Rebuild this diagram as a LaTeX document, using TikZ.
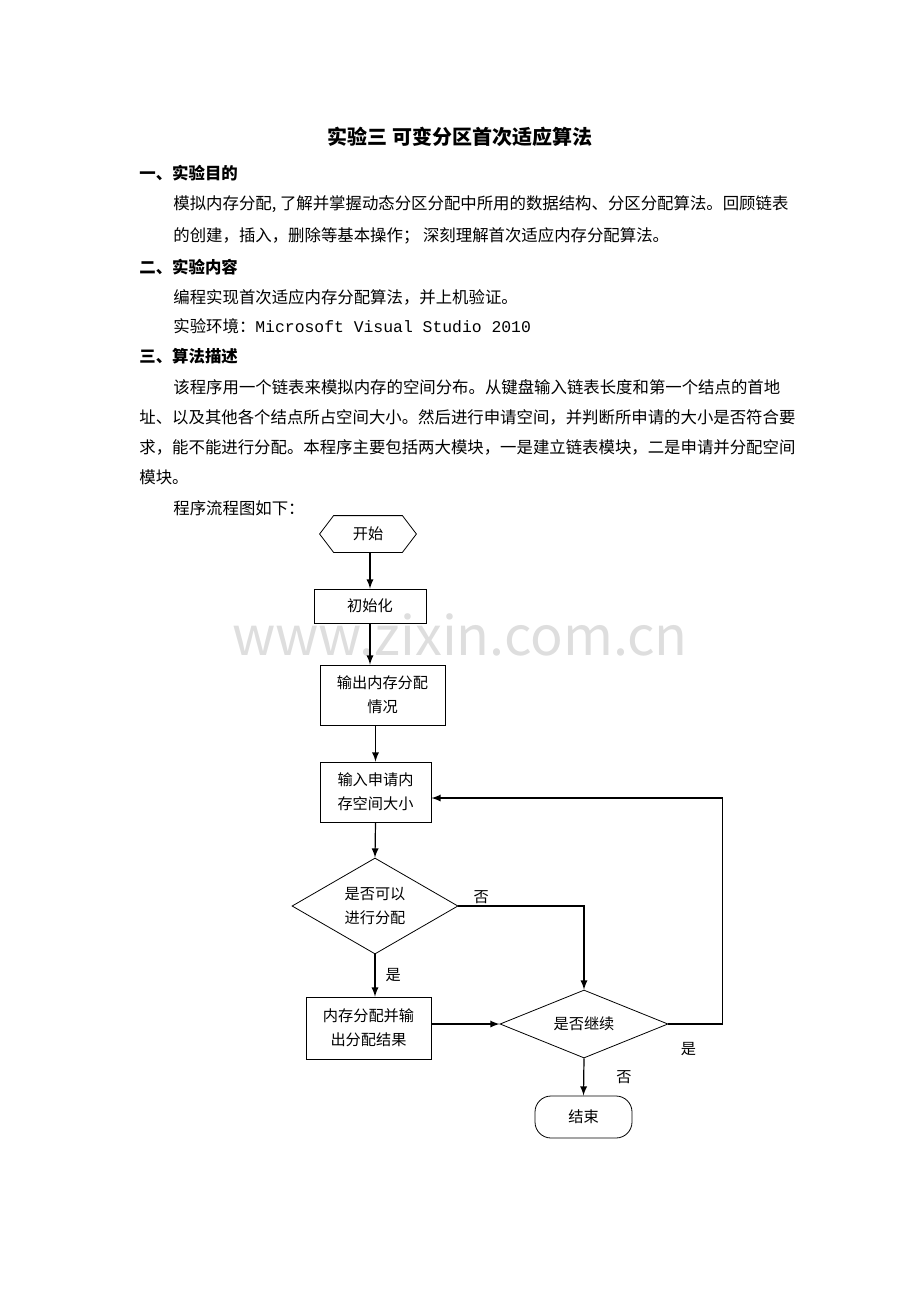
\documentclass[tikz,border=0pt]{standalone}
\usepackage{fontspec}
\setmainfont{Noto Sans CJK SC}
\setmonofont{Liberation Mono}
\usetikzlibrary{shapes.geometric,calc}
\tikzset{
  txt/.style={anchor=west,inner sep=0pt,font=\fontsize{8.2pt}{10pt}\selectfont},
  head/.style={txt,font=\fontsize{8.2pt}{10pt}\selectfont\bfseries},
  box/.style={draw,thin,inner sep=1pt,align=center,font=\fontsize{7.6pt}{12pt}\selectfont},
  dec/.style={draw,thin,diamond,aspect=1.75,inner sep=0pt,align=center,font=\fontsize{7.6pt}{12pt}\selectfont},
  lbl/.style={inner sep=0pt,font=\fontsize{7.6pt}{9pt}\selectfont},
  arr/.style={-latex,semithick}
}
\begin{document}
\begin{tikzpicture}[x=0.5pt,y=-0.5pt]
    \useasboundingbox (0,0) rectangle (920,1302);
    % watermark
    \node[text=black!13,font=\fontsize{27pt}{27pt}\selectfont] (wm) at (460,635) {www.zixin.com.cn};

    % text of the page
    \node[inner sep=0pt,font=\fontsize{10pt}{12pt}\selectfont\bfseries] (title) at (460,137) {实验三\ 可变分区首次适应算法};
    \node[head] (h1) at (139,173) {一、实验目的};
    \node[txt] (p1) at (173,204) {模拟内存分配, 了解并掌握动态分区分配中所用的数据结构、分区分配算法。回顾链表};
    \node[txt] (p2) at (173,236) {的创建，插入，删除等基本操作；\ 深刻理解首次适应内存分配算法。};
    \node[head] (h2) at (139,267) {二、实验内容};
    \node[txt] (p3) at (173,297) {编程实现首次适应内存分配算法，并上机验证。};
    \node[txt] (p4) at (173,326) {实验环境：{\ttfamily Microsoft Visual Studio 2010}};
    \node[head] (h3) at (139,356) {三、算法描述};
    \node[txt] (p5) at (173,387) {该程序用一个链表来模拟内存的空间分布。从键盘输入链表长度和第一个结点的首地};
    \node[txt] (p6) at (139,417) {址、以及其他各个结点所占空间大小。然后进行申请空间，并判断所申请的大小是否符合要};
    \node[txt] (p7) at (139,447) {求，能不能进行分配。本程序主要包括两大模块，一是建立链表模块，二是申请并分配空间};
    \node[txt] (p8) at (139,477) {模块。};
    \node[txt] (p9) at (173,508) {程序流程图如下：};

    % flow chart
    \node[box,draw=none,minimum width=48pt,minimum height=18pt] (start) at (368,534) {开始};
    \draw[thin] (start.west) -- ($(start.north west)+(14,0)$) -- ($(start.north east)+(-14,0)$)
        -- (start.east) -- ($(start.south east)+(-14,0)$) -- ($(start.south west)+(14,0)$) -- cycle;
    \node[box,minimum width=56pt,minimum height=17pt] (init) at (370,606) {初始化};
    \node[box,minimum width=62.5pt,minimum height=30pt] (show) at (382.5,695) {输出内存分配\\情况};
    \node[box,minimum width=55.5pt,minimum height=30pt] (req) at (375.5,792) {输入申请内\\存空间大小};
    \node[dec,minimum width=83pt,minimum height=48pt] (can) at (375,906) {是否可以\\进行分配};
    \node[box,minimum width=62.5pt,minimum height=31pt] (alloc) at (368.5,1028) {内存分配并输\\出分配结果};
    \node[dec,minimum width=84pt,minimum height=34pt] (cont) at (584,1024) {是否继续};
    \node[box,rounded corners=8pt,minimum width=48.5pt,minimum height=21pt] (stop) at (583.5,1117) {结束};
    \coordinate (back) at ($(req.east)+(0,6)$);

    \draw[arr] (start.south -| init.north) -- (init.north);
    \draw[arr] (init.south) -- (init.south |- show.north);
    \draw[arr] (show.south -| req.north) -- (req.north);
    \draw[arr] (req.south) -- (can.north);
    \draw[arr] (can.south) -- (can.south |- alloc.north) node[lbl,midway,right=5pt] {是};
    \draw[arr] (can.east) -| (cont.north) node[lbl,pos=0.05,above right=1pt] {否};
    \draw[arr] (alloc.east |- cont.west) -- (cont.west);
    \draw[arr] (cont.east) -- ++(54,0) |- (back) node[lbl,pos=0,below=9pt,xshift=-17pt] {是};
    \draw[arr] (cont.south) -- (stop.north) node[lbl,midway,right=16pt] {否};
\end{tikzpicture}
\end{document}
